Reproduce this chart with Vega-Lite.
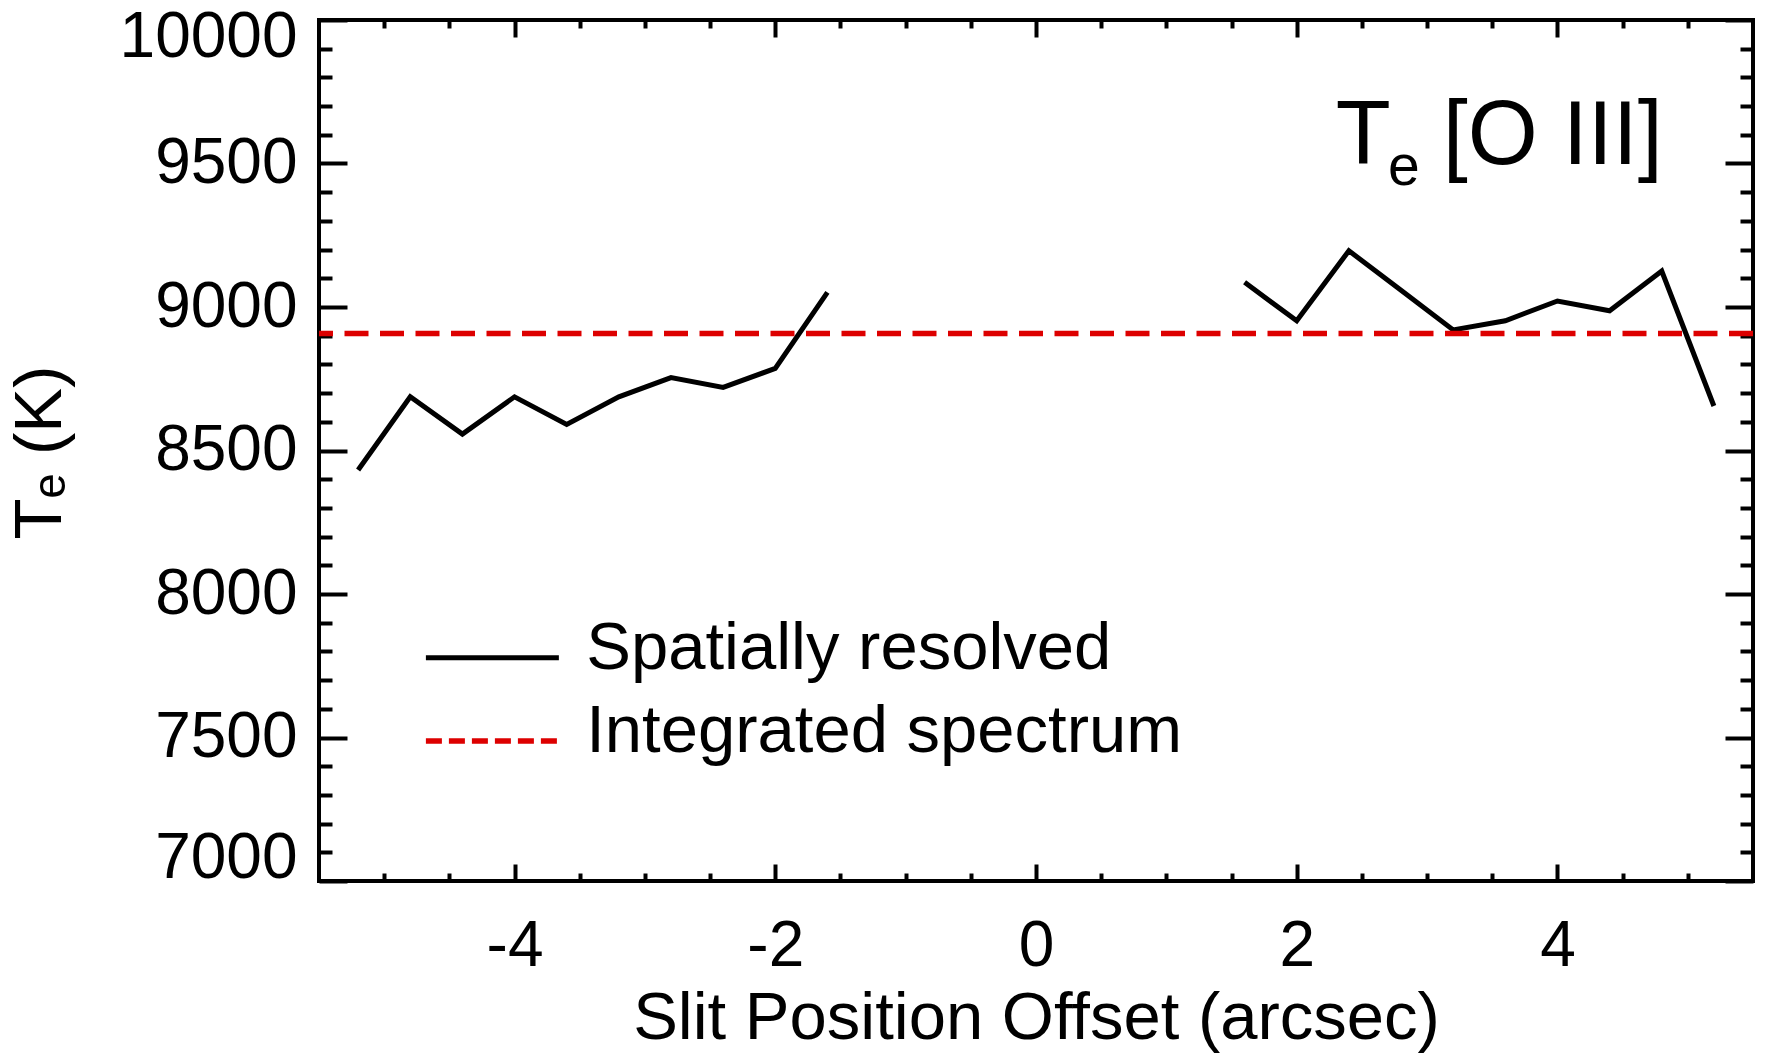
{
  "$schema": "https://vega.github.io/schema/vega-lite/v6.json",
  "width": 1434,
  "height": 861,
  "autosize": {"type": "none"},
  "padding": {"left": 319, "top": 20, "right": 17, "bottom": 181},
  "background": "white",
  "config": {
    "view": {"stroke": "black", "strokeWidth": 4},
    "font": "Liberation Sans",
    "axis": {
      "grid": false,
      "domain": false,
      "tickColor": "black",
      "tickWidth": 4,
      "labelFont": "Liberation Sans",
      "labelFontSize": 64,
      "labelColor": "black",
      "labelOverlap": false,
      "labelFlush": false,
      "titleFont": "Liberation Sans",
      "titleFontSize": 67,
      "titleFontWeight": "normal",
      "titleColor": "black"
    },
    "text": {"font": "Liberation Sans", "color": "black"}
  },
  "layer": [
    {
      "data": {
        "values": [
          {"side": "east", "offset": -5.2, "te": 8432},
          {"side": "east", "offset": -4.8, "te": 8687},
          {"side": "east", "offset": -4.4, "te": 8557},
          {"side": "east", "offset": -4.0, "te": 8687},
          {"side": "east", "offset": -3.6, "te": 8591},
          {"side": "east", "offset": -3.2, "te": 8687},
          {"side": "east", "offset": -2.8, "te": 8754},
          {"side": "east", "offset": -2.4, "te": 8720},
          {"side": "east", "offset": -2.0, "te": 8786},
          {"side": "east", "offset": -1.6, "te": 9051},
          {"side": "west", "offset": 1.6, "te": 9086},
          {"side": "west", "offset": 2.0, "te": 8952},
          {"side": "west", "offset": 2.4, "te": 9196},
          {"side": "west", "offset": 2.8, "te": 9058},
          {"side": "west", "offset": 3.2, "te": 8920},
          {"side": "west", "offset": 3.6, "te": 8952},
          {"side": "west", "offset": 4.0, "te": 9021},
          {"side": "west", "offset": 4.4, "te": 8987},
          {"side": "west", "offset": 4.8, "te": 9125},
          {"side": "west", "offset": 5.2, "te": 8655}
        ]
      },
      "mark": {"type": "line", "color": "black", "strokeWidth": 5},
      "encoding": {
        "x": {
          "field": "offset",
          "type": "quantitative",
          "scale": {"domain": [-5.5, 5.5], "nice": false, "zero": false},
          "axis": {
            "orient": "bottom",
            "values": [-5, -4.5, -4, -3.5, -3, -2.5, -2, -1.5, -1, -0.5, 0, 0.5, 1, 1.5, 2, 2.5, 3, 3.5, 4, 4.5, 5],
            "labelExpr": "datum.value % 2 === 0 ? '' + datum.value : ''",
            "tickSize": {"condition": {"test": "datum.value % 2 === 0", "value": -17}, "value": -8},
            "labelPadding": 101,
            "labelBaseline": "alphabetic",
            "title": "Slit Position Offset (arcsec)",
            "titleBaseline": "alphabetic",
            "titleY": 157
          }
        },
        "y": {
          "field": "te",
          "type": "quantitative",
          "scale": {"domain": [7000, 10000], "nice": false, "zero": false},
          "axis": {
            "orient": "left",
            "values": [7000, 7100, 7200, 7300, 7400, 7500, 7600, 7700, 7800, 7900, 8000, 8100, 8200, 8300, 8400, 8500, 8600, 8700, 8800, 8900, 9000, 9100, 9200, 9300, 9400, 9500, 9600, 9700, 9800, 9900, 10000],
            "labelExpr": "datum.value % 500 === 0 ? '' + datum.value : ''",
            "tickSize": {"condition": {"test": "datum.value % 500 === 0", "value": -28}, "value": -13},
            "labelPadding": 50,
            "labelOffset": {"expr": "datum.value == 10000 ? 17 : (datum.value == 7000 ? -23 : 0)"},
            "title": "Tₑ (K)",
            "titleAngle": 270,
            "titleAlign": "center",
            "titleBaseline": "alphabetic",
            "titleX": -259,
            "titleY": 432
          }
        },
        "detail": {"field": "side", "type": "nominal"}
      }
    },
    {
      "data": {"values": [{"name": "Integrated spectrum", "te": 8908}]},
      "mark": {"type": "rule", "color": "#dd0000", "strokeWidth": 5.5, "strokeDash": [24, 11.5], "strokeDashOffset": 10},
      "encoding": {
        "x": {
          "datum": -5.5,
          "type": "quantitative",
          "axis": {
            "orient": "top",
            "values": [-5, -4.5, -4, -3.5, -3, -2.5, -2, -1.5, -1, -0.5, 0, 0.5, 1, 1.5, 2, 2.5, 3, 3.5, 4, 4.5, 5],
            "labels": false,
            "title": null,
            "tickSize": {"condition": {"test": "datum.value % 2 === 0", "value": -17}, "value": -8}
          }
        },
        "x2": {"datum": 5.5},
        "y": {
          "field": "te",
          "type": "quantitative",
          "axis": {
            "orient": "right",
            "values": [7000, 7100, 7200, 7300, 7400, 7500, 7600, 7700, 7800, 7900, 8000, 8100, 8200, 8300, 8400, 8500, 8600, 8700, 8800, 8900, 9000, 9100, 9200, 9300, 9400, 9500, 9600, 9700, 9800, 9900, 10000],
            "labels": false,
            "title": null,
            "tickSize": {"condition": {"test": "datum.value % 500 === 0", "value": -28}, "value": -13}
          }
        }
      }
    },
    {
      "data": {"values": [{}]},
      "mark": {"type": "rule", "color": "black", "strokeWidth": 5},
      "encoding": {
        "x": {"datum": -4.68, "type": "quantitative", "axis": null},
        "x2": {"datum": -3.66},
        "y": {"datum": 7778, "type": "quantitative", "axis": null}
      }
    },
    {
      "data": {"values": [{}]},
      "mark": {"type": "rule", "color": "#dd0000", "strokeWidth": 5.5, "strokeDash": [16, 7]},
      "encoding": {
        "x": {"datum": -4.68, "type": "quantitative", "axis": null},
        "x2": {"datum": -3.66},
        "y": {"datum": 7488, "type": "quantitative", "axis": null}
      }
    },
    {
      "data": {"values": [{"label": "Spatially resolved"}]},
      "mark": {"type": "text", "fontSize": 67, "align": "left", "baseline": "alphabetic"},
      "encoding": {
        "x": {"datum": -3.45, "type": "quantitative", "axis": null},
        "y": {"datum": 7738, "type": "quantitative", "axis": null},
        "text": {"field": "label"}
      }
    },
    {
      "data": {"values": [{"label": "Integrated spectrum"}]},
      "mark": {"type": "text", "fontSize": 67, "align": "left", "baseline": "alphabetic"},
      "encoding": {
        "x": {"datum": -3.45, "type": "quantitative", "axis": null},
        "y": {"datum": 7451, "type": "quantitative", "axis": null},
        "text": {"field": "label"}
      }
    },
    {
      "data": {"values": [{"label": "T"}]},
      "mark": {"type": "text", "fontSize": 90, "align": "left", "baseline": "alphabetic"},
      "encoding": {
        "x": {"datum": 2.30, "type": "quantitative", "axis": null},
        "y": {"datum": 9500, "type": "quantitative", "axis": null},
        "text": {"field": "label"}
      }
    },
    {
      "data": {"values": [{"label": "e"}]},
      "mark": {"type": "text", "fontSize": 57, "align": "left", "baseline": "alphabetic"},
      "encoding": {
        "x": {"datum": 2.70, "type": "quantitative", "axis": null},
        "y": {"datum": 9425, "type": "quantitative", "axis": null},
        "text": {"field": "label"}
      }
    },
    {
      "data": {"values": [{"label": "[O III]"}]},
      "mark": {"type": "text", "fontSize": 90, "align": "left", "baseline": "alphabetic"},
      "encoding": {
        "x": {"datum": 3.12, "type": "quantitative", "axis": null},
        "y": {"datum": 9500, "type": "quantitative", "axis": null},
        "text": {"field": "label"}
      }
    }
  ],
  "resolve": {"axis": {"x": "independent", "y": "independent"}}
}
